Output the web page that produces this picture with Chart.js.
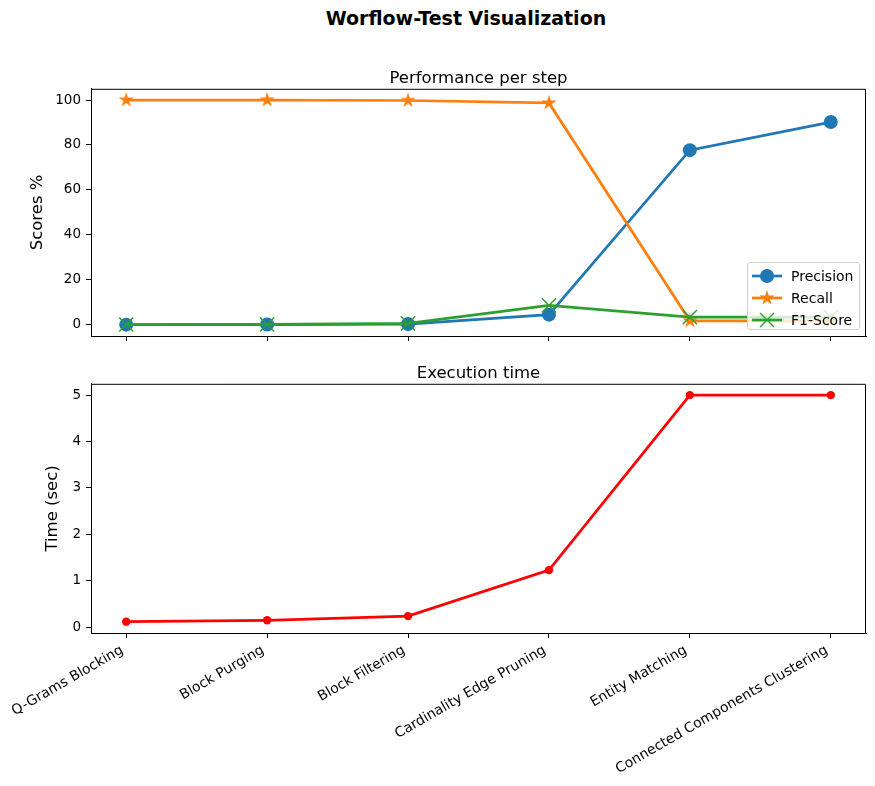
<!DOCTYPE html>
<html>
<head>
<meta charset="utf-8">
<script src="https://cdn.jsdelivr.net/npm/chart.js@4.4.1/dist/chart.umd.min.js"></script>
<style>
  body { margin: 0; background: #fff; font-family: 'DejaVu Sans', sans-serif; }
  #fig { position: relative; width: 875px; height: 786px; overflow: hidden; }
  #suptitle { position: absolute; left: 0; width: 932px; top: 7px; text-align: center;
              font-weight: bold; font-size: 19px; color: #000; }
  .box { position: absolute; left: 0; width: 875px; }
  #legend { position: absolute; left: 747px; top: 262px; width: 111px; height: 66px;
            border: 1px solid #d0d0d0; border-radius: 3px; background: rgba(255,255,255,0.8);
            font-size: 14px; color: #000; }
  .row { position: absolute; left: 4px; height: 22px; display: flex; align-items: center; }
  .row span { margin-left: 9px; }
</style>
</head>
<body>
<div id="fig">
  <div id="suptitle">Worflow-Test Visualization</div>
  <div class="box" style="top:50px;height:300px"><canvas id="perfChart" width="875" height="300"></canvas></div>
  <div class="box" style="top:350px;height:436px"><canvas id="timeChart" width="875" height="436"></canvas></div>
  <div id="legend"></div>
</div>
<script>
// --- datos ---
const pasos = ['Q-Grams Blocking', 'Block Purging', 'Block Filtering',
               'Cardinality Edge Pruning', 'Entity Matching', 'Connected Components Clustering'];
const precision = [0.05, 0.1, 0.3, 4.5, 77.7, 90.2];
const recall = [100, 100, 99.8, 98.7, 1.75, 1.75];
const f1Score = [0.1, 0.2, 0.6, 8.6, 3.4, 3.4];
const tiempos = [0.12, 0.15, 0.24, 1.23, 5.0, 5.0];
const ticksScores = [0, 20, 40, 60, 80, 100];
const ticksTiempo = [0, 1, 2, 3, 4, 5];

const AZUL = '#1f77b4', NARANJA = '#ff7f0e', VERDE = '#2ca02c', ROJO = '#ff0000';

Chart.defaults.font.family = "'DejaVu Sans', sans-serif";
Chart.defaults.color = '#000';
Chart.defaults.animation = false;

// estrella rellena tipo matplotlib '*'
function hacerEstrella(color, R) {
  const c = document.createElement('canvas');
  const s = Math.ceil(R * 2 + 2);
  c.width = s; c.height = s;
  const ctx = c.getContext('2d');
  ctx.beginPath();
  for (let i = 0; i < 10; i++) {
    const r = i % 2 === 0 ? R : R * 0.382;
    const a = -Math.PI / 2 + i * Math.PI / 5;
    const x = s / 2 + r * Math.cos(a), y = s / 2 + r * Math.sin(a);
    i === 0 ? ctx.moveTo(x, y) : ctx.lineTo(x, y);
  }
  ctx.closePath();
  ctx.fillStyle = color;
  ctx.fill();
  return c;
}
const estrella = hacerEstrella(NARANJA, 8);

// lineas de arriba y derecha del marco (abajo/izquierda ya las ponen los ejes)
const marco = {
  id: 'marco',
  afterDraw(chart) {
    const a = chart.chartArea, ctx = chart.ctx;
    ctx.save();
    ctx.strokeStyle = '#000';
    ctx.lineWidth = 1;
    ctx.beginPath();
    ctx.moveTo(a.left, a.top + 0.5);
    ctx.lineTo(a.right - 0.5, a.top + 0.5);
    ctx.lineTo(a.right - 0.5, a.bottom);
    ctx.stroke();
    ctx.restore();
  }
};

function ejeX(mostrarEtiquetas, alto) {
  return {
    type: 'linear', min: -0.25, max: 5.25,
    afterBuildTicks: s => { s.ticks = pasos.map((_, i) => ({ value: i })); },
    afterFit: s => { s.height = alto; },
    grid: { drawOnChartArea: false, tickLength: 5, tickColor: '#000' },
    border: { color: '#000' },
    ticks: {
      autoSkip: false, padding: 4, labelOffset: mostrarEtiquetas ? -4 : 0,
      minRotation: mostrarEtiquetas ? 30 : 0, maxRotation: mostrarEtiquetas ? 30 : 0,
      font: { size: 13.9 },
      callback: v => mostrarEtiquetas ? (pasos[v] ?? '') : ''
    }
  };
}

function ejeY(min, max, marcas, titulo, tituloPad) {
  return {
    type: 'linear', min: min, max: max,
    afterBuildTicks: s => { s.ticks = marcas.map(v => ({ value: v })); },
    afterFit: s => { s.width = 91; },
    grid: { drawOnChartArea: false, tickLength: 5, tickColor: '#000' },
    border: { color: '#000' },
    ticks: { padding: 5, font: { size: 13.5 }, callback: v => String(v) },
    title: { display: true, text: titulo, font: { size: 16.5 }, padding: { top: tituloPad, bottom: 0 } }
  };
}

const aPuntos = arr => arr.map((y, i) => ({ x: i, y: y }));

new Chart(document.getElementById('perfChart'), {
  type: 'line',
  data: {
    datasets: [
      { label: 'Precision', data: aPuntos(precision), borderColor: AZUL, backgroundColor: AZUL,
        borderWidth: 2.7, pointStyle: 'circle', pointRadius: 7, pointBorderWidth: 0, order: 3 },
      { label: 'Recall', data: aPuntos(recall), borderColor: NARANJA, backgroundColor: NARANJA,
        borderWidth: 2.7, pointStyle: estrella, order: 2 },
      { label: 'F1-Score', data: aPuntos(f1Score), borderColor: VERDE, backgroundColor: VERDE,
        borderWidth: 2.7, pointStyle: 'crossRot', pointRadius: 10, pointBorderWidth: 1.4, order: 1 }
    ]
  },
  options: {
    responsive: false,
    layout: { autoPadding: false, padding: { left: 0, right: 9, top: 0, bottom: 0 } },
    scales: { x: ejeX(false, 14), y: ejeY(-5, 105, ticksScores, 'Scores %', 28) },
    plugins: {
      legend: { display: false },
      tooltip: { enabled: false },
      title: { display: true, fullSize: false, text: 'Performance per step',
               font: { size: 16.5, weight: 'normal' }, padding: { top: 19, bottom: 0 } }
    }
  },
  plugins: [marco]
});

new Chart(document.getElementById('timeChart'), {
  type: 'line',
  data: {
    datasets: [
      { label: 'Time', data: aPuntos(tiempos), borderColor: ROJO, backgroundColor: ROJO,
        borderWidth: 2.7, pointStyle: 'circle', pointRadius: 4.2, pointBorderWidth: 0 }
    ]
  },
  options: {
    responsive: false,
    layout: { autoPadding: false, padding: { left: 0, right: 9, top: 0, bottom: 0 } },
    scales: { x: ejeX(true, 153), y: ejeY(-0.124, 5.244, ticksTiempo, 'Time (sec)', 43) },
    plugins: {
      legend: { display: false },
      tooltip: { enabled: false },
      title: { display: true, fullSize: false, text: 'Execution time',
               font: { size: 16.5, weight: 'normal' }, padding: { top: 14, bottom: 0 } }
    }
  },
  plugins: [marco]
});

// --- leyenda dentro del area, abajo a la derecha ---
const itemsLeyenda = [
  { texto: 'Precision', color: AZUL, marca: '<circle cx="15" cy="11" r="7" fill="' + AZUL + '"/>' },
  { texto: 'Recall', color: NARANJA, marca: '<image href="' + estrella.toDataURL() + '" x="' + (15 - estrella.width / 2) + '" y="' + (11 - estrella.height / 2) + '" width="' + estrella.width + '" height="' + estrella.height + '"/>' },
  { texto: 'F1-Score', color: VERDE, marca: '<path d="M8 4 L22 18 M22 4 L8 18" stroke="' + VERDE + '" stroke-width="1.4"/>' }
];
const leyenda = document.getElementById('legend');
itemsLeyenda.forEach((it, i) => {
  const fila = document.createElement('div');
  fila.className = 'row';
  fila.style.top = (2 + i * 22) + 'px';
  fila.innerHTML = '<svg width="30" height="22"><line x1="0" y1="11" x2="30" y2="11" stroke="' + it.color +
    '" stroke-width="2.7"/>' + it.marca + '</svg><span>' + it.texto + '</span>';
  leyenda.appendChild(fila);
});
</script>
</body>
</html>
